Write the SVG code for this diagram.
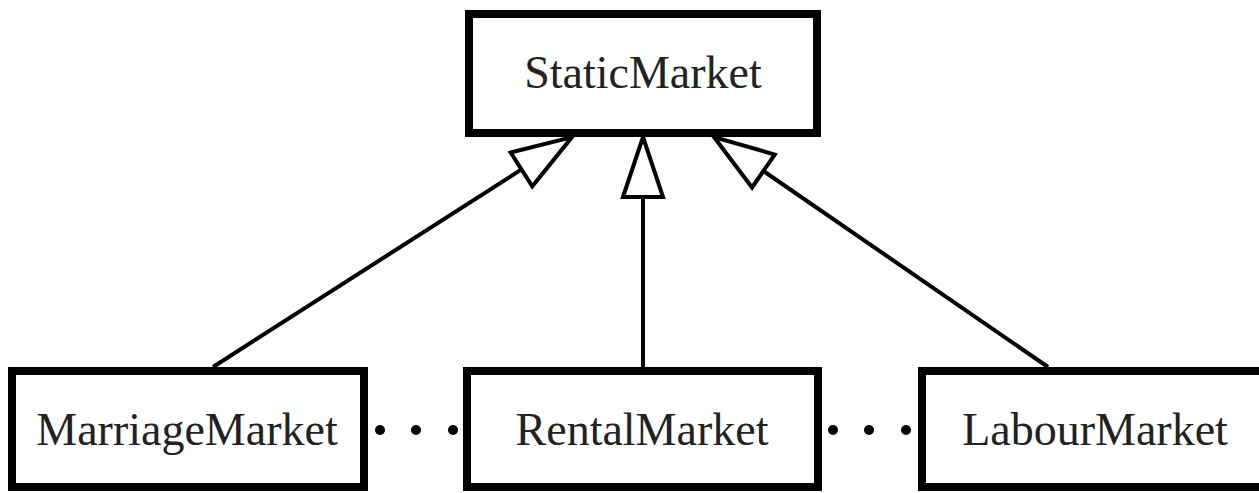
<svg xmlns="http://www.w3.org/2000/svg" width="1259" height="493" viewBox="0 0 1259 493">
  <style>
    .box { fill: #ffffff; stroke: #000000; stroke-width: 8; }
    .label { font-family: "Liberation Serif", "Times New Roman", serif; font-size: 46px; fill: #222222; text-anchor: middle; }
    .edge { fill: none; stroke: #000000; stroke-width: 4; }
    .dot { fill: #000000; }
  </style>
  <defs>
    <marker id="hollowTri" markerUnits="userSpaceOnUse" viewBox="-3 -24 66 48" markerWidth="66" markerHeight="48" refX="0" refY="0" orient="auto">
      <path d="M0,-20 L60,0 L0,20 Z" fill="#ffffff" stroke="#000000" stroke-width="4" stroke-linejoin="miter"/>
    </marker>
  </defs>
  <rect width="1259" height="493" fill="#ffffff"/>

  <g id="connectors">
    <line class="edge" x1="213" y1="367" x2="521.5" y2="169.4" marker-end="url(#hollowTri)"/>
    <line class="edge" x1="643" y1="367" x2="643" y2="197" marker-end="url(#hollowTri)"/>
    <line class="edge" x1="1048" y1="367" x2="763.4" y2="171" marker-end="url(#hollowTri)"/>
  </g>

  <g id="StaticMarket">
    <rect class="box" x="469" y="14" width="348" height="119"/>
    <text class="label" x="643" y="88">StaticMarket</text>
  </g>

  <g id="MarriageMarket">
    <rect class="box" x="12" y="371" width="352" height="116"/>
    <text class="label" x="187" y="445">MarriageMarket</text>
  </g>

  <g id="RentalMarket">
    <rect class="box" x="467" y="371" width="351" height="116"/>
    <text class="label" x="642" y="445">RentalMarket</text>
  </g>

  <g id="LabourMarket">
    <rect class="box" x="922" y="371" width="345" height="116"/>
    <text class="label" x="1095" y="445">LabourMarket</text>
  </g>

  <g id="ellipses">
    <circle class="dot" cx="380" cy="430" r="5"/>
    <circle class="dot" cx="416" cy="430" r="5"/>
    <circle class="dot" cx="453" cy="430" r="5"/>
    <circle class="dot" cx="833" cy="430" r="5"/>
    <circle class="dot" cx="869" cy="430" r="5"/>
    <circle class="dot" cx="906" cy="430" r="5"/>
  </g>
</svg>
